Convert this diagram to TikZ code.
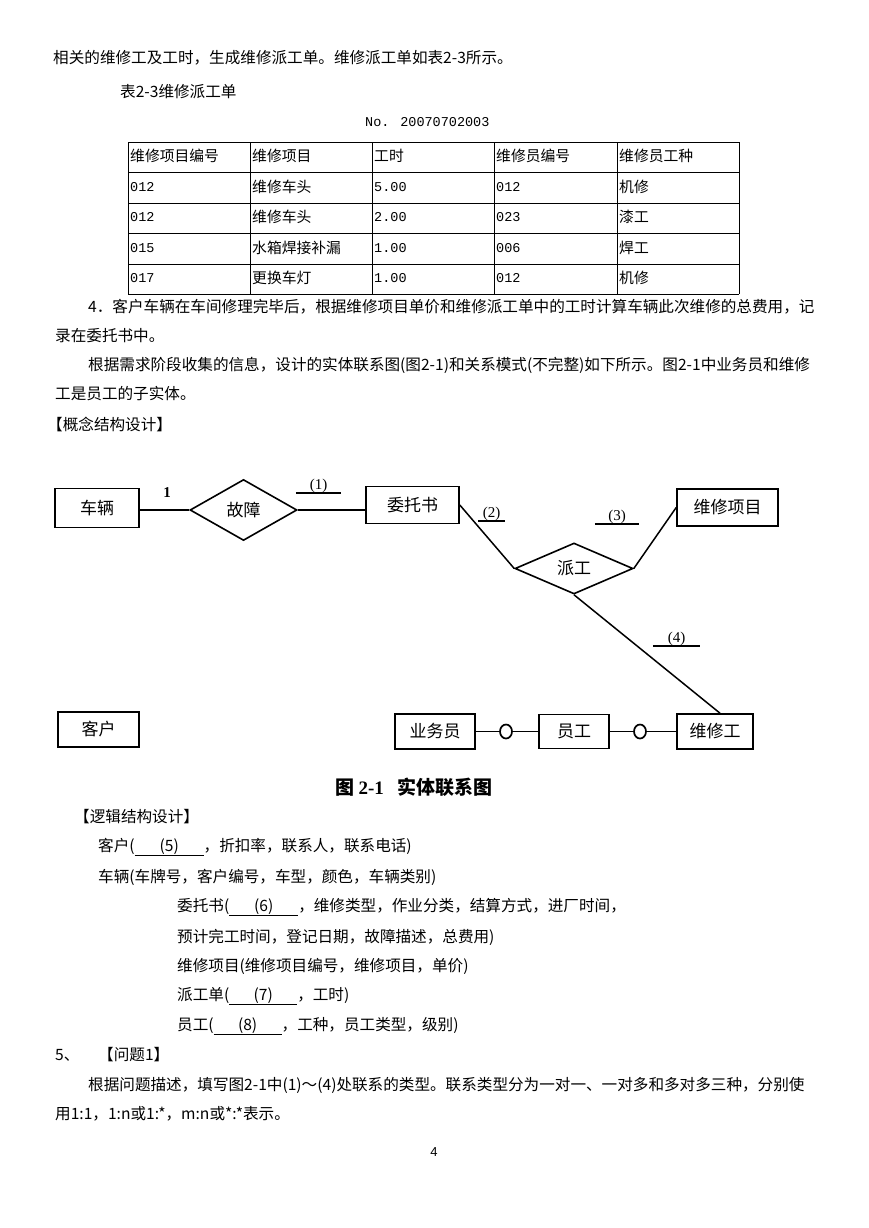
\documentclass[tikz,border=0pt]{standalone}
\usepackage{fontspec}
\setmainfont{Noto Sans CJK SC}
\newfontfamily\monof{Liberation Mono}
\newfontfamily\seriff{Liberation Serif}
\newfontfamily\arialf{Liberation Sans}
\usetikzlibrary{shapes.geometric,calc}
\newcommand\blankfill[2]{\underline{\makebox[#1pt]{#2}}}
\begin{document}
\begin{tikzpicture}[x=1pt,y=-1pt,
  txt/.style={anchor=west,inner sep=0pt,font=\fontsize{15.6}{18}\selectfont},
  cell/.style={anchor=west,inner sep=0pt,font=\fontsize{14.8}{17}\selectfont},
  num/.style={anchor=west,inner sep=0pt,font=\fontsize{13.5}{15}\selectfont\monof},
  ent/.style={draw,line width=1.6pt,inner sep=0pt,font=\fontsize{17}{20}\selectfont},
  rel/.style={diamond,draw,line width=1.6pt,inner sep=0pt},
  reltext/.style={font=\fontsize{17}{20}\selectfont,inner sep=0pt},
  lnk/.style={line width=1.5pt},
  lab/.style={anchor=south,inner sep=0pt,font=\fontsize{15}{18}\selectfont\seriff},
  circ/.style={ellipse,draw,line width=1.7pt,fill=white,minimum width=12,minimum height=14,inner sep=0pt},
]
\fill[white] (0,0) rectangle (869,1228);
\useasboundingbox (0,0) rectangle (869,1228);

% ---- top text ----
\node[txt] (t1) at (53,58) {相关的维修工及工时，生成维修派工单。维修派工单如表2-3所示。};
\node[txt] (t2) at (120,92) {表2-3维修派工单};
\node[num,font=\fontsize{13.5}{15}\selectfont\monof] (t3) at (365,122) {No. 20070702003};

% ---- table ----
\foreach \y in {142,172.5,203,233.5,264,294} \draw[line width=0.8pt] (128,\y) -- (739,\y);
\foreach \x in {128,250,372,494,617,739} \draw[line width=0.8pt] (\x,142) -- (\x,294);
\node[cell] at (130,156) {维修项目编号};
\node[cell] at (252,156) {维修项目};
\node[cell] at (374,156) {工时};
\node[cell] at (496,156) {维修员编号};
\node[cell] at (619,156) {维修员工种};
\node[num] at (130,187) {012};
\node[cell] at (252,187) {维修车头};
\node[num] at (374,187) {5.00};
\node[num] at (496,187) {012};
\node[cell] at (619,187) {机修};
\node[num] at (130,217) {012};
\node[cell] at (252,217) {维修车头};
\node[num] at (374,217) {2.00};
\node[num] at (496,217) {023};
\node[cell] at (619,217) {漆工};
\node[num] at (130,248) {015};
\node[cell] at (252,248) {水箱焊接补漏};
\node[num] at (374,248) {1.00};
\node[num] at (496,248) {006};
\node[cell] at (619,248) {焊工};
\node[num] at (130,278) {017};
\node[cell] at (252,278) {更换车灯};
\node[num] at (374,278) {1.00};
\node[num] at (496,278) {012};
\node[cell] at (619,278) {机修};

% ---- paragraphs ----
\node[txt] at (88,307) {4．客户车辆在车间修理完毕后，根据维修项目单价和维修派工单中的工时计算车辆此次维修的总费用，记};
\node[txt] at (55,336) {录在委托书中。};
\node[txt] at (88,365) {根据需求阶段收集的信息，设计的实体联系图(图2-1)和关系模式(不完整)如下所示。图2-1中业务员和维修};
\node[txt] at (55,394) {工是员工的子实体。};
\node[txt] at (47,424) {【概念结构设计】};

% ---- ER diagram ----
\node[ent,minimum width=84,minimum height=39] (cl) at (97,508) {车辆};
\node[rel,minimum width=107,minimum height=61] (gz) at (243.5,510) {};
\node[reltext] at (gz) {故障};
\node[ent,minimum width=93,minimum height=37] (wt) at (412.5,505) {委托书};
\node[rel,minimum width=118,minimum height=51] (pg) at (574,568.5) {};
\node[reltext] at (pg) {派工};
\node[ent,minimum width=101,minimum height=37] (xm) at (727.5,507.5) {维修项目};
\node[ent,minimum width=81,minimum height=35] (kh) at (98.5,729.5) {客户};
\node[ent,minimum width=80,minimum height=35] (ywy) at (435,731.5) {业务员};
\node[ent,minimum width=70,minimum height=34] (yg) at (574,731.5) {员工};
\node[ent,minimum width=76,minimum height=35] (wxg) at (715,731.5) {维修工};
\node[circ] (c1) at (506,731.5) {};
\node[circ] (c2) at (640,731.5) {};

\draw[lnk] (cl.east |- gz) -- (gz.west);
\draw[lnk] (gz.east) -- (gz.east -| wt.west);
\draw[lnk] (wt.east) -- (pg.west);
\draw[lnk] (pg.east) -- (xm.west);
\draw[lnk] (pg.south) -- ($(wxg.north)+(5,0)$);
\draw[lnk] (ywy.east) -- (c1.west);
\draw[lnk] (c1.east) -- (yg.west);
\draw[lnk] (yg.east) -- (c2.west);
\draw[lnk] (c2.east) -- (wxg.west);

\node[inner sep=0pt,font=\fontsize{15}{18}\selectfont\seriff\bfseries] (one) at (167,493) {1};
\node[lab,minimum width=45] (l1) at (318.5,493) {(1)};
\draw[line width=1.2pt] (l1.south west) -- (l1.south east);
\node[lab,minimum width=27] (l2) at (491.5,521) {(2)};
\draw[line width=1.2pt] (l2.south west) -- (l2.south east);
\node[lab,minimum width=44] (l3) at (617,524) {(3)};
\draw[line width=1.2pt] (l3.south west) -- (l3.south east);
\node[lab,minimum width=47] (l4) at (676.5,646) {(4)};
\draw[line width=1.2pt] (l4.south west) -- (l4.south east);

\node[anchor=west,inner sep=0pt,font=\fontsize{19}{22}\selectfont\bfseries] (cap) at (335,787) {图 {\seriff 2-1}\hspace{14pt}实体联系图};

% ---- logical design ----
\node[txt] at (74,817) {【逻辑结构设计】};
\node[txt] at (98,847) {客户(\blankfill{69}{(5)}，折扣率，联系人，联系电话)};
\node[txt] at (98,877) {车辆(车牌号，客户编号，车型，颜色，车辆类别)};
\node[txt] at (177,907) {委托书(\blankfill{69}{(6)}，维修类型，作业分类，结算方式，进厂时间，};
\node[txt] at (177,937) {预计完工时间，登记日期，故障描述，总费用)};
\node[txt] at (177,966) {维修项目(维修项目编号，维修项目，单价)};
\node[txt] at (177,996) {派工单(\blankfill{68}{(7)}，工时)};
\node[txt] at (177,1026) {员工(\blankfill{68}{(8)}，工种，员工类型，级别)};
\node[txt] at (55,1055) {5、};
\node[txt] at (98,1055) {【问题1】};
\node[txt] at (88,1085) {根据问题描述，填写图2-1中(1)～(4)处联系的类型。联系类型分为一对一、一对多和多对多三种，分别使};
\node[txt] at (55,1114) {用1:1，1:n或1:*，m:n或*:*表示。};
\node[inner sep=0pt,font=\fontsize{13}{15}\selectfont\arialf] at (434,1152) {4};
\end{tikzpicture}
\end{document}
